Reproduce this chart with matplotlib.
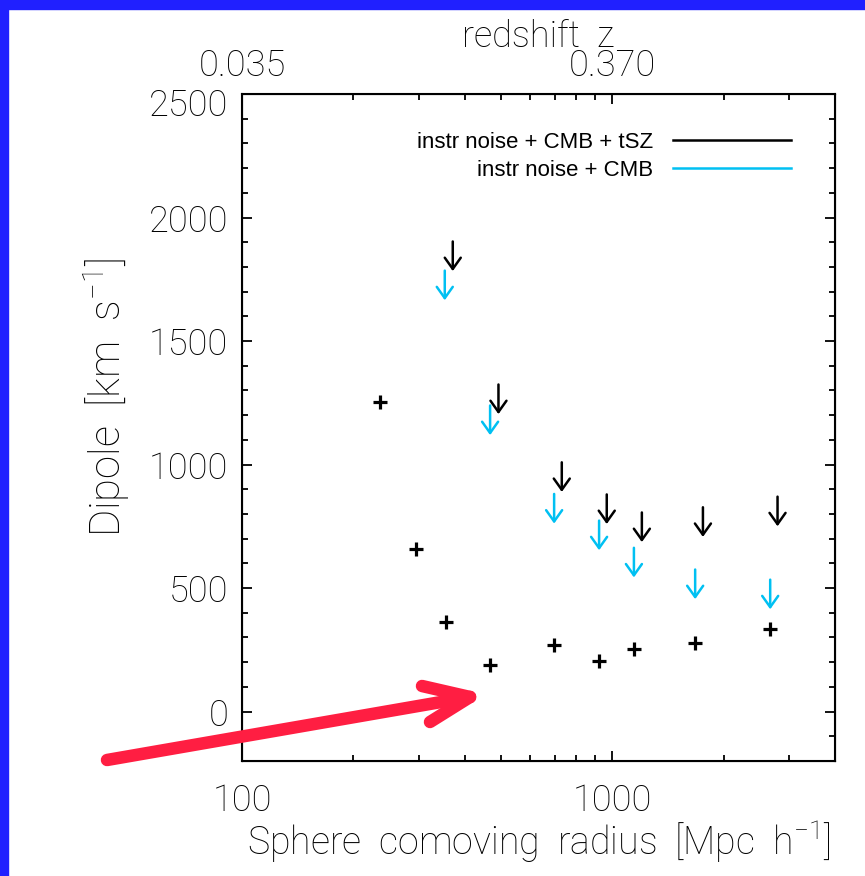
import numpy as np
import matplotlib.pyplot as plt
import matplotlib.transforms as mtransforms
from matplotlib.lines import Line2D
from matplotlib.patches import Rectangle

# measured dipole (plus markers)
radius = [236, 295, 356, 468, 697, 922, 1145, 1676, 2673]
dipole = [1252, 660, 364, 190, 271, 206, 253, 278, 333]

# upper limits, instr noise + CMB
cmb_r = [353, 468, 697, 922, 1145, 1676, 2673]
cmb_lim = [1785, 1239, 881, 773, 663, 575, 534]

# upper limits, instr noise + CMB + tSZ
tsz_r = [371, 493, 731, 967, 1203, 1759, 2798]
tsz_lim = [1903, 1324, 1009, 879, 806, 827, 870]

z_ticks = [100, 1000]
z_labels = ['0.035', '0.370']

black = 'black'
cyan = '#00C0F2'
red = '#FF1E42'

plt.rcParams['font.family'] = ['Roboto', 'DejaVu Sans']
plt.rcParams['font.weight'] = 'light'
plt.rcParams['axes.labelweight'] = 'light'
plt.rcParams['mathtext.fontset'] = 'custom'
plt.rcParams['mathtext.rm'] = 'Roboto:light'
plt.rcParams['mathtext.it'] = 'Roboto:light'

fig = plt.figure(figsize=(8.65, 8.76), dpi=100)
ax = fig.add_axes([0.2798, 0.1313, 0.6855, 0.7614])

ax.plot(radius, dipole, ls='none', marker='+', ms=10, mew=2.3, color=black)

for r, v in zip(cmb_r, cmb_lim):
    ax.annotate('', xy=(r, v - 120), xytext=(r, v),
                arrowprops=dict(arrowstyle='->, head_length=0.45, head_width=0.32',
                                lw=1.8, color=cyan, shrinkA=0, shrinkB=0,
                                mutation_scale=18))
for r, v in zip(tsz_r, tsz_lim):
    ax.annotate('', xy=(r, v - 120), xytext=(r, v),
                arrowprops=dict(arrowstyle='->, head_length=0.45, head_width=0.32',
                                lw=1.8, color=black, shrinkA=0, shrinkB=0,
                                mutation_scale=18))

ax.set_xscale('log')
ax.set_xlim(100, 4000)
ax.set_ylim(-200, 2500)
ax.set_xticks([100, 1000])
ax.set_xticklabels(['100', '1000'])
ax.set_yticks(np.arange(0, 2501, 500))
ax.set_yticks(np.arange(-200, 2501, 100), minor=True)

for s in ax.spines.values():
    s.set_linewidth(1.5)
ax.tick_params(which='both', direction='in', right=True, top=False, width=1.3,
               labelsize=26, colors='black')
ax.tick_params(axis='x', which='major', length=7, pad=16)
ax.tick_params(axis='y', which='major', length=7, pad=10)
ax.tick_params(which='minor', length=4)

# the top y label sits a little below its tick, as in the original
top_lab = ax.get_yticklabels()[-1]
top_lab.set_transform(top_lab.get_transform() +
                      mtransforms.ScaledTranslation(0, -6 / 72, fig.dpi_scale_trans))

ax.set_xlabel('Sphere  comoving  radius  [Mpc  h$^{-1}$]', fontsize=27)
ax.set_ylabel('Dipole  [km  s$^{-1}$]', fontsize=30)
ax.xaxis.set_label_coords(0.5, -0.087)
ax.yaxis.set_label_coords(-0.185, 0.545)

ax2 = ax.twiny()
ax2.set_xscale('log')
ax2.set_xlim(100, 4000)
ax2.set_xticks(z_ticks)
ax2.set_xticklabels(z_labels)
ax2.tick_params(which='both', direction='in', width=1.3, labelsize=26, pad=7)
ax2.tick_params(which='major', length=7)
ax2.tick_params(which='minor', length=4)
ax2.set_xlabel('redshift  z', fontsize=26, labelpad=1)

handles = [Line2D([], [], color=black, lw=1.8), Line2D([], [], color=cyan, lw=1.8)]
leg = ax.legend(handles, ['instr noise + CMB + tSZ', 'instr noise + CMB'],
                loc='upper right', bbox_to_anchor=(0.926, 0.943), frameon=False,
                markerfirst=False, handlelength=5.3, handletextpad=0.9,
                labelspacing=0.3, borderpad=0, borderaxespad=0,
                prop={'family': 'Liberation Sans', 'size': 16, 'weight': 'normal'})

# red pointer arrow drawn over the figure
W, H = 865.0, 876.0
def fx(x, y):
    return x / W, 1 - y / H
shaft = [fx(107, 760), fx(470, 697)]
wing1 = [fx(422, 686), fx(470, 697)]
wing2 = [fx(430, 722), fx(470, 697)]
for seg in (shaft, wing1, wing2):
    xs, ys = zip(*seg)
    fig.add_artist(Line2D(xs, ys, transform=fig.transFigure, color=red, lw=9,
                          solid_capstyle='round', solid_joinstyle='round', zorder=10))

# blue frame on the left and top edges
fig.add_artist(Rectangle((0, 0), 8 / W, 1, transform=fig.transFigure,
                         color='#2020FF', zorder=20))
fig.add_artist(Rectangle((0, 1 - 9 / H), 1, 9 / H, transform=fig.transFigure,
                         color='#2020FF', zorder=20))

fig.savefig('out.png', dpi=100)
